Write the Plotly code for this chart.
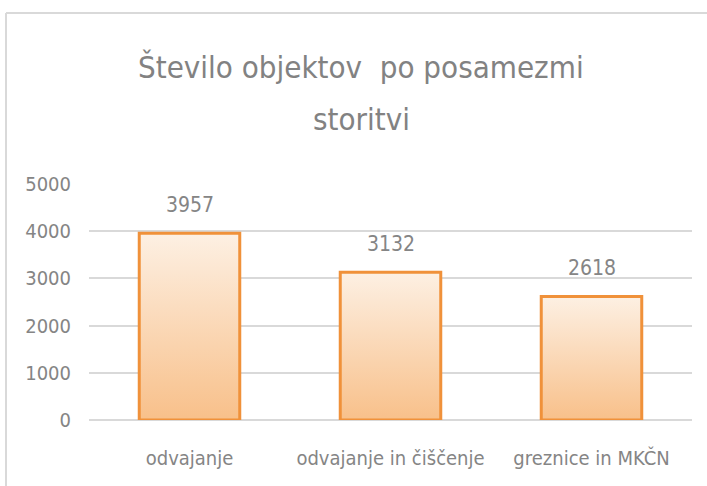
import plotly.graph_objects as go

categories = ["odvajanje", "odvajanje in čiščenje", "greznice in MKČN"]
values = [3957, 3132, 2618]
y_ticks = [0, 1000, 2000, 3000, 4000, 5000]
title_lines = ["Število objektov  po posamezmi", "storitvi"]

FONT = "DejaVu Sans Condensed, Liberation Sans Narrow, sans-serif"
TXT = "#858585"
TITLE_C = "#828282"
GRID = "#D9D9D9"
ORANGE = "#F0913A"
HALF = 0.25

W, H = 707, 486
ML, MR, MT, MB = 89, 15, 184, 66
plot_h = H - MT - MB
plot_w = W - ML - MR


def py(p):
    return (H - MB - p) / plot_h


def px(p):
    return (p - ML) / plot_w


fig = go.Figure()

# each bar: rectangle built from its category index and value, gradient fill + orange outline
for i, v in enumerate(values):
    fig.add_trace(go.Scatter(
        x=[i - HALF, i + HALF, i + HALF, i - HALF, i - HALF],
        y=[0, 0, v, v, 0],
        mode="lines", line=dict(width=3, color=ORANGE), fill="toself",
        fillgradient=dict(type="vertical",
                          colorscale=[[0, "#F8C08A"], [1, "#FDF0E3"]]),
        hoverinfo="skip", showlegend=False, name=categories[i],
    ))

for i, v in enumerate(values):
    fig.add_annotation(x=i, y=v, text=str(v), showarrow=False, yanchor="bottom",
                       yshift=14, font=dict(family=FONT, size=21, color=TXT))

for text, ypix in zip(title_lines, [67, 119]):
    fig.add_annotation(x=px(361), y=py(ypix), xref="paper", yref="paper",
                       text=text, showarrow=False, xanchor="center", yanchor="middle",
                       font=dict(family=FONT, size=31, color=TITLE_C))

# chart frame
fig.add_shape(type="line", xref="paper", yref="paper", x0=px(6), x1=px(6),
              y0=py(495), y1=py(13), line=dict(color=GRID, width=2))
fig.add_shape(type="line", xref="paper", yref="paper", x0=px(6), x1=px(715),
              y0=py(13), y1=py(13), line=dict(color=GRID, width=2))

fig.update_layout(
    width=W, height=H,
    margin=dict(l=ML, r=MR, t=MT, b=MB, autoexpand=False),
    paper_bgcolor="white", plot_bgcolor="white",
    font=dict(family=FONT, color=TXT),
)

fig.update_xaxes(
    range=[-0.5, 2.5], tickvals=list(range(len(categories))), ticktext=categories,
    showgrid=False, zeroline=False, showline=False, ticks="", automargin=False,
    tickfont=dict(family=FONT, size=20, color=TXT), ticklabelstandoff=24,
)
fig.update_yaxes(
    range=[0, 5000], tickvals=y_ticks, showgrid=True, gridcolor=GRID, gridwidth=1.5,
    zeroline=True, zerolinecolor=GRID, zerolinewidth=1.5, showline=False, ticks="",
    automargin=False,
    tickfont=dict(family=FONT, size=20, color=TXT), ticklabelstandoff=17,
)

fig.write_html("out.html", config={"displayModeBar": False},
               post_script="document.body.style.margin='0px';document.body.style.padding='0px';")
